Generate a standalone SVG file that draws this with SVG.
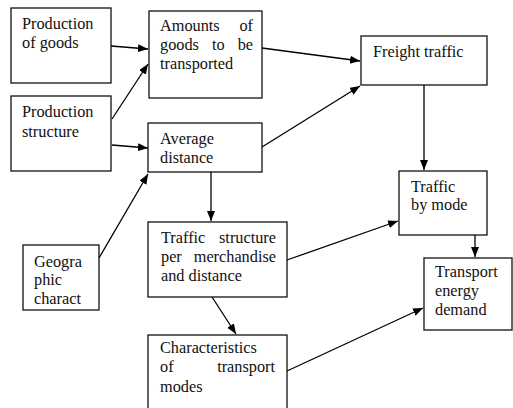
<svg xmlns="http://www.w3.org/2000/svg" width="513" height="408" viewBox="0 0 513 408">
  <style>
    .box { fill: #fff; stroke: #111; stroke-width: 1.3; }
    .lbl { font-family: "Liberation Serif", "Times New Roman", serif; font-size: 16.3px; fill: #111; }
    .end { text-anchor: end; }
    .link { fill: none; stroke: #000; stroke-width: 1.3; marker-end: url(#head); }
  </style>
  <defs>
    <marker id="head" markerUnits="userSpaceOnUse" markerWidth="11" markerHeight="9" refX="10" refY="4" orient="auto">
      <path d="M0,0 L10,4 L0,8 z" fill="#000"/>
    </marker>
  </defs>
  <rect width="513" height="408" fill="#fff"/>

  <g id="production-of-goods">
    <rect class="box" x="11" y="8" width="100" height="75"/>
    <text class="lbl" x="22" y="29">Production</text>
    <text class="lbl" x="22" y="48">of goods</text>
  </g>

  <g id="production-structure">
    <rect class="box" x="11" y="96" width="100" height="75"/>
    <text class="lbl" x="22" y="117">Production</text>
    <text class="lbl" x="22" y="137">structure</text>
  </g>

  <g id="amounts">
    <rect class="box" x="149" y="11" width="113" height="87"/>
    <text class="lbl" x="160" y="31">Amounts</text>
    <text class="lbl end" x="253" y="31">of</text>
    <text class="lbl" x="160" y="50">goods</text>
    <text class="lbl" x="212" y="50">to</text>
    <text class="lbl end" x="253" y="50">be</text>
    <text class="lbl" x="160" y="69">transported</text>
  </g>

  <g id="average-distance">
    <rect class="box" x="148" y="123" width="114" height="49"/>
    <text class="lbl" x="160" y="144">Average</text>
    <text class="lbl" x="160" y="163">distance</text>
  </g>

  <g id="freight-traffic">
    <rect class="box" x="361" y="36" width="126" height="49"/>
    <text class="lbl" x="373" y="57">Freight traffic</text>
  </g>

  <g id="traffic-by-mode">
    <rect class="box" x="399" y="171" width="88" height="64"/>
    <text class="lbl" x="411" y="192">Traffic</text>
    <text class="lbl" x="411" y="210">by mode</text>
  </g>

  <g id="transport-energy-demand">
    <rect class="box" x="424" y="258" width="88" height="72"/>
    <text class="lbl" x="435" y="277">Transport</text>
    <text class="lbl" x="435" y="296">energy</text>
    <text class="lbl" x="435" y="315">demand</text>
  </g>

  <g id="geographic-charact">
    <rect class="box" x="23" y="245" width="76" height="65"/>
    <text class="lbl" x="34" y="267">Geogra</text>
    <text class="lbl" x="34" y="285">phic</text>
    <text class="lbl" x="34" y="304">charact</text>
  </g>

  <g id="traffic-structure">
    <rect class="box" x="148" y="222" width="139" height="75"/>
    <text class="lbl" x="161" y="243">Traffic</text>
    <text class="lbl end" x="276" y="243">structure</text>
    <text class="lbl" x="161" y="262">per</text>
    <text class="lbl end" x="276" y="262">merchandise</text>
    <text class="lbl" x="161" y="281">and distance</text>
  </g>

  <g id="transport-modes">
    <rect class="box" x="148" y="335" width="139" height="80"/>
    <text class="lbl" x="160" y="353">Characteristics</text>
    <text class="lbl" x="160" y="372">of</text>
    <text class="lbl end" x="275" y="372">transport</text>
    <text class="lbl" x="160" y="392">modes</text>
  </g>

  <g id="connectors">
    <line class="link" x1="111" y1="46" x2="148" y2="49"/>
    <line class="link" x1="112" y1="119" x2="148" y2="64"/>
    <line class="link" x1="112" y1="145" x2="148" y2="148"/>
    <line class="link" x1="99" y1="258" x2="148" y2="174"/>
    <line class="link" x1="262" y1="48" x2="360" y2="61"/>
    <line class="link" x1="262" y1="147" x2="360" y2="86"/>
    <line class="link" x1="211" y1="172" x2="211" y2="221"/>
    <line class="link" x1="424" y1="85" x2="424" y2="170"/>
    <line class="link" x1="287" y1="260" x2="398" y2="221"/>
    <line class="link" x1="212" y1="297" x2="236" y2="334"/>
    <line class="link" x1="475" y1="235" x2="475" y2="257"/>
    <line class="link" x1="287" y1="371" x2="423" y2="308"/>
  </g>
</svg>
